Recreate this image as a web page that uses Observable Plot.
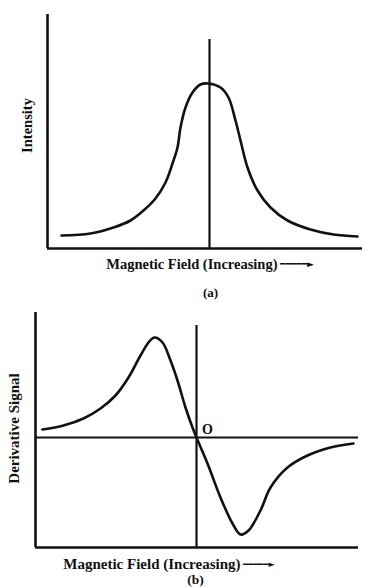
<!DOCTYPE html>
<html>
<head>
<meta charset="utf-8">
<script src="https://cdn.jsdelivr.net/npm/d3@7"></script>
<script src="https://cdn.jsdelivr.net/npm/@observablehq/plot@0.6"></script>
<style>
  body { margin: 0; background: #fff; }
  #chart svg { display: block; }
</style>
</head>
<body>
<div id="chart"></div>
<script>
// ---- Panel (a): absorption line ----
const absField = [-14.8, -11.9, -9.6, -7.9, -6.6, -5.4, -4.4, -3.7, -3.2, -2.9, -2.4, -1.7, -0.9, -0.1,
                  1.1, 1.9, 2.6, 3.1, 3.8, 4.8, 6.1, 7.8, 10.1, 12.4, 14.8];
const absIntensity = [1.3, 1.5, 2.1, 2.8, 3.8, 5.0, 6.6, 8.5, 10.1, 12.1, 14.1, 15.6, 16.4, 16.5,
                      16.1, 15.1, 12.8, 10.8, 8.1, 5.8, 4.1, 2.8, 1.9, 1.4, 1.2];
const absXDomain = [-16.2, 15.3];
const absYDomain = [0, 23.4];
const absCenterTop = [20.9];

// ---- Panel (b): first-derivative signal ----
const derField = [-15.4, -13.3, -11.3, -9.6, -8.1, -6.8, -5.6, -4.8, -4.2, -3.4, -2.6, -1.9, -1.1, -0.4, 0,
                  1.1, 2.4, 3.6, 4.4, 5.2, 6.4, 7.4, 9.1, 11.1, 13.4, 15.7];
const derSignal = [0.8, 1.2, 1.9, 2.9, 4.2, 6.0, 8.2, 9.5, 10.0, 9.5, 7.7, 5.7, 3.0, 1.0, 0,
                   -2.6, -6.0, -8.6, -9.7, -9.3, -7.3, -5.0, -3.0, -1.8, -1.0, -0.6];
const derXDomain = [-16.1, 16.2];
const derYDomain = [-11.0, 12.5];
const derCenterTop = [11.2];
const originLabel = ["O"];

// ---- Texts ----
const xTitle = "Magnetic Field (Increasing)";
const arrowText = "━━━━━►";
const yTitleA = "Intensity";
const yTitleB = "Derivative Signal";
const captionA = "(a)";
const captionB = "(b)";

const absData = absField.map((x, i) => ({x, y: absIntensity[i]}));
const derData = derField.map((x, i) => ({x, y: derSignal[i]}));

const font = "Liberation Serif, Times New Roman, serif";
const style = {fontFamily: font, background: "#fff", color: "#111"};
const ink = "#111";

const chartA = Plot.plot({
  width: 366, height: 300,
  marginTop: 14, marginBottom: 52, marginLeft: 47, marginRight: 4,
  style,
  x: {domain: absXDomain, axis: null},
  y: {domain: absYDomain, axis: null},
  marks: [
    Plot.ruleX([absXDomain[0]], {stroke: ink, strokeWidth: 2.6}),
    Plot.ruleY([absYDomain[0]], {stroke: ink, strokeWidth: 2.6}),
    Plot.ruleX([0], {y1: absYDomain[0], y2: absCenterTop[0], stroke: ink, strokeWidth: 2.2}),
    Plot.line(absData, {x: "x", y: "y", curve: "catmull-rom", stroke: ink, strokeWidth: 2.6}),
    Plot.text([yTitleA], {frameAnchor: "left", textAnchor: "middle", dx: -20, dy: -6, rotate: -90, fontSize: 14.5, fontWeight: "bold", fill: ink}),
    Plot.text([xTitle], {frameAnchor: "bottom", textAnchor: "end", lineAnchor: "middle", dx: 72.5, dy: 16, fontSize: 14.5, fontWeight: "bold", fill: ink}),
    Plot.text([arrowText], {frameAnchor: "bottom", textAnchor: "start", lineAnchor: "middle", dx: 75, dy: 16, fontSize: 9, fontFamily: "DejaVu Sans", fill: ink}),
    Plot.text([captionA], {frameAnchor: "bottom", lineAnchor: "middle", dx: 5.5, dy: 44, fontSize: 13, fontWeight: "bold", fill: ink})
  ]
});

const chartB = Plot.plot({
  width: 366, height: 287,
  marginTop: 12, marginBottom: 40, marginLeft: 35, marginRight: 8,
  style,
  x: {domain: derXDomain, axis: null},
  y: {domain: derYDomain, axis: null},
  marks: [
    Plot.ruleX([derXDomain[0]], {stroke: ink, strokeWidth: 2.6}),
    Plot.ruleY([derYDomain[0]], {stroke: ink, strokeWidth: 2.6}),
    Plot.ruleY([0], {stroke: ink, strokeWidth: 2.2}),
    Plot.ruleX([0], {y1: derYDomain[0], y2: derCenterTop[0], stroke: ink, strokeWidth: 2.2}),
    Plot.line(derData, {x: "x", y: "y", curve: "catmull-rom", stroke: ink, strokeWidth: 2.6}),
    Plot.text(originLabel, {x: () => 0, y: () => 0, dx: 11, dy: -8, fontSize: 14, fontWeight: "bold", fill: ink}),
    Plot.text([yTitleB], {frameAnchor: "left", textAnchor: "middle", dx: -21, dy: -1.5, rotate: -90, fontSize: 15, fontWeight: "bold", fill: ink}),
    Plot.text([xTitle], {frameAnchor: "bottom", textAnchor: "end", lineAnchor: "middle", dx: 43.5, dy: 17, fontSize: 15, fontWeight: "bold", fill: ink}),
    Plot.text([arrowText], {frameAnchor: "bottom", textAnchor: "start", lineAnchor: "middle", dx: 46, dy: 17, fontSize: 8.5, fontFamily: "DejaVu Sans", fill: ink}),
    Plot.text([captionB], {frameAnchor: "bottom", lineAnchor: "middle", dx: -1.5, dy: 32.5, fontSize: 13.5, fontWeight: "bold", fill: ink})
  ]
});

const root = document.getElementById("chart");
root.appendChild(chartA);
root.appendChild(chartB);
</script>
</body>
</html>
